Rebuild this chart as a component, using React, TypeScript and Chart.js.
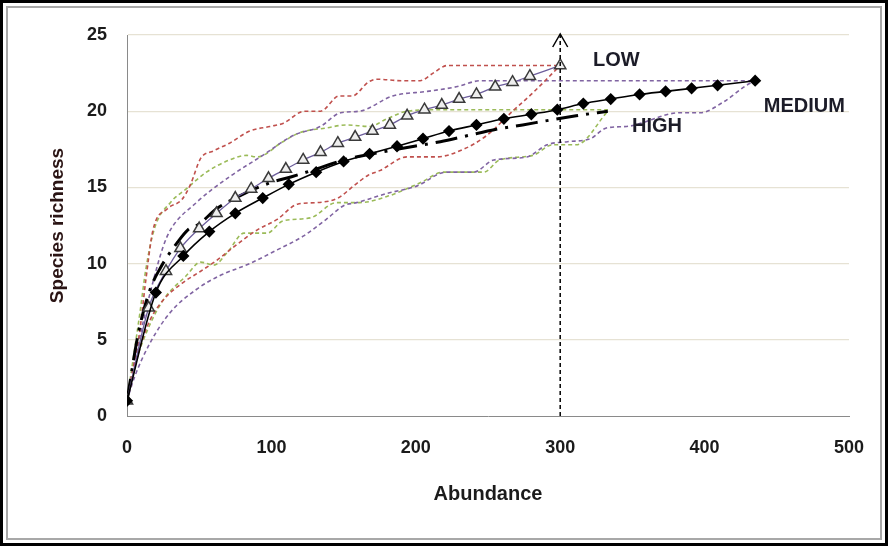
import { useEffect, useRef } from "react";
import { Chart, registerables } from "chart.js";
Chart.register(...registerables);

// ---- data ----
const LOW_X = [0, 15, 27, 37, 50, 62, 75, 86, 98, 110, 122, 134, 146, 158, 170, 182, 194, 206, 218, 230, 242, 255, 267, 279, 300];
const LOW_Y = [1, 7.1, 9.5, 11.0, 12.3, 13.3, 14.3, 14.9, 15.6, 16.2, 16.8, 17.3, 17.9, 18.3, 18.7, 19.1, 19.7, 20.1, 20.4, 20.8, 21.1, 21.6, 21.9, 22.3, 23.0];

const MED_X = [0, 20, 39, 57, 75, 94, 112, 131, 150, 168, 187, 205, 223, 242, 261, 280, 298, 316, 335, 355, 373, 391, 409, 435];
const MED_Y = [1, 8.1, 10.5, 12.1, 13.3, 14.3, 15.2, 16.0, 16.7, 17.2, 17.7, 18.2, 18.7, 19.1, 19.5, 19.8, 20.1, 20.5, 20.8, 21.1, 21.3, 21.5, 21.7, 22.0];

const HIGH_X = [0, 8, 16, 23, 35, 42, 50, 62, 75, 99, 114, 134, 150, 175, 199, 217, 236, 255, 274, 292, 311, 333];
const HIGH_Y = [1, 5.5, 8.3, 9.7, 11.4, 12.2, 12.6, 13.6, 14.3, 15.3, 15.7, 16.3, 16.8, 17.3, 17.7, 18.0, 18.4, 18.8, 19.1, 19.4, 19.7, 20.0];

const LOW_UP_X = [0, 5, 9, 13, 18, 28, 38, 44, 51, 60, 71, 85, 99, 108, 123, 134, 147, 156, 167, 173, 190, 203, 212, 222, 300];
const LOW_UP_Y = [1, 3.5, 5.7, 8.9, 12.2, 13.6, 14.2, 15.2, 16.9, 17.4, 17.9, 18.7, 19.0, 19.2, 20.0, 20.0, 21.0, 21.0, 21.9, 22.1, 22.0, 22.0, 22.5, 23.0, 23.0];

const LOW_LO_X = [0, 9, 16, 25, 38, 51, 62, 74, 90, 104, 118, 131, 146, 157, 167, 175, 194, 214, 233, 249, 267, 281, 300];
const LOW_LO_Y = [1, 4.5, 6.3, 7.6, 8.7, 9.5, 10.2, 11.1, 12.2, 12.9, 13.9, 14.0, 14.3, 15.1, 15.8, 16.1, 17.0, 17.0, 17.5, 18.4, 20.0, 21.2, 23.0];

const HIGH_UP_X = [0, 5, 9, 13, 19, 30, 41, 55, 71, 83, 90, 108, 120, 138, 152, 168, 180, 194, 217, 333];
const HIGH_UP_Y = [1, 4.2, 6.8, 9.6, 12.3, 14.0, 14.9, 16.0, 16.8, 17.1, 17.0, 18.0, 18.6, 18.9, 19.1, 19.0, 19.5, 20.0, 20.1, 20.1];

const HIGH_LO_X = [0, 6, 14, 25, 41, 51, 60, 70, 81, 97, 108, 127, 145, 161, 180, 203, 219, 247, 258, 281, 295, 311, 333];
const HIGH_LO_Y = [1, 3.5, 5.6, 7.6, 9.2, 10.1, 9.9, 10.8, 12.0, 12.0, 12.8, 13.0, 14.0, 14.0, 14.4, 15.3, 16.0, 16.0, 16.8, 17.1, 17.8, 17.8, 20.0];

const MED_UP_X = [0, 4, 12, 18, 25, 30, 48, 71, 94, 115, 134, 148, 161, 184, 208, 228, 245, 435];
const MED_UP_Y = [1, 3.0, 6.5, 8.8, 11.1, 12.2, 14.0, 15.7, 17.1, 18.4, 19.0, 19.9, 20.0, 21.0, 21.3, 21.6, 22.0, 22.0];

const MED_LO_X = [0, 5, 16, 30, 48, 64, 85, 104, 122, 138, 150, 159, 180, 201, 221, 240, 254, 277, 291, 305, 321, 332, 346, 383, 397, 413, 429, 435];
const MED_LO_Y = [1, 2.5, 4.8, 6.8, 8.3, 9.2, 10.0, 10.9, 11.8, 12.9, 13.8, 14.0, 14.6, 15.1, 16.0, 16.0, 16.8, 17.0, 17.8, 18.0, 18.2, 18.9, 19.0, 19.9, 19.9, 20.6, 21.7, 22.0];

const REF_X = [300, 300];
const REF_Y = [0, 25];

const X_TICKS = [0, 100, 200, 300, 400, 500];
const Y_TICKS = [0, 5, 10, 15, 20, 25];

const LABEL_TEXT = ["LOW", "MEDIUM", "HIGH"];
const LABEL_X = [322.7, 441, 349.7];
const LABEL_Y = [23.36, 20.3, 18.97];

const pts = (xs: number[], ys: number[]) => xs.map((x, i) => ({ x, y: ys[i] }));

const FONT = "'Liberation Sans', Arial, sans-serif";
const TEXT_COLOR = "#1b1b1b";

export default function App() {
  const ref = useRef<HTMLCanvasElement>(null);

  useEffect(() => {
    const ci = (label: string, xs: number[], ys: number[], color: string) => ({
      label,
      data: pts(xs, ys),
      borderColor: color,
      borderWidth: 1.6,
      borderDash: [4, 3],
      pointRadius: 0,
      cubicInterpolationMode: "monotone" as const,
      fill: false,
      order: 5,
    });

    const annot = {
      id: "annot",
      afterDatasetsDraw(chart: any) {
        const { ctx, scales } = chart;
        const xs = scales.x;
        const ys = scales.y;
        const ax = xs.getPixelForValue(REF_X[1]);
        const ay = ys.getPixelForValue(REF_Y[1]) - 1;
        ctx.save();
        ctx.strokeStyle = "#000";
        ctx.lineWidth = 1.5;
        ctx.setLineDash([]);
        ctx.beginPath();
        ctx.moveTo(ax - 7.5, ay + 13);
        ctx.lineTo(ax, ay);
        ctx.lineTo(ax + 7.5, ay + 13);
        ctx.stroke();
        ctx.font = `bold 20px ${FONT}`;
        ctx.fillStyle = "#1c1c28";
        ctx.textAlign = "left";
        ctx.textBaseline = "middle";
        LABEL_TEXT.forEach((t, i) => {
          ctx.fillText(t, xs.getPixelForValue(LABEL_X[i]), ys.getPixelForValue(LABEL_Y[i]));
        });
        ctx.restore();
      },
    };

    const chart = new Chart(ref.current as HTMLCanvasElement, {
      type: "line",
      data: {
        datasets: [
          {
            label: "MEDIUM",
            data: pts(MED_X, MED_Y),
            borderColor: "#000",
            borderWidth: 1.6,
            pointStyle: "rectRot",
            pointRadius: 5,
            pointBackgroundColor: "#000",
            pointBorderColor: "#000",
            cubicInterpolationMode: "monotone",
            order: 1,
          },
          {
            label: "LOW",
            data: pts(LOW_X, LOW_Y),
            borderColor: "#6d5e9c",
            borderWidth: 1.3,
            pointStyle: "triangle",
            pointRadius: 6.5,
            pointBackgroundColor: "#eeeeee",
            pointBorderColor: "#3a3a3a",
            pointBorderWidth: 1.5,
            cubicInterpolationMode: "monotone",
            order: 1,
          },
          {
            label: "HIGH",
            data: pts(HIGH_X, HIGH_Y),
            borderColor: "#000",
            borderWidth: 3,
            borderDash: [22, 8, 3, 8],
            pointRadius: 0,
            cubicInterpolationMode: "monotone",
            order: 2,
          },
          {
            label: "ref",
            data: pts(REF_X, REF_Y),
            borderColor: "#000",
            borderWidth: 1.5,
            borderDash: [4, 3],
            pointRadius: 0,
            order: 0,
          },
          ci("LOW upper", LOW_UP_X, LOW_UP_Y, "#c0504d"),
          ci("LOW lower", LOW_LO_X, LOW_LO_Y, "#c0504d"),
          ci("MEDIUM upper", MED_UP_X, MED_UP_Y, "#8064a2"),
          ci("MEDIUM lower", MED_LO_X, MED_LO_Y, "#8064a2"),
          ci("HIGH upper", HIGH_UP_X, HIGH_UP_Y, "#9bbb59"),
          ci("HIGH lower", HIGH_LO_X, HIGH_LO_Y, "#9bbb59"),
        ] as any,
      },
      options: {
        animation: false,
        responsive: false,
        layout: { padding: { top: 35, right: 39, left: 0, bottom: 0 } },
        plugins: { legend: { display: false }, tooltip: { enabled: false } },
        scales: {
          x: {
            type: "linear",
            min: 0,
            max: 500,
            afterBuildTicks: (s: any) => {
              s.ticks = X_TICKS.map((v) => ({ value: v }));
            },
            afterFit: (s: any) => {
              s.height = 130;
            },
            grid: { display: false, drawTicks: false },
            border: { color: "#8a8a8a", width: 1 },
            ticks: {
              padding: 21,
              maxRotation: 0,
              color: TEXT_COLOR,
              font: { family: FONT, size: 18, weight: "bold" },
            },
            title: {
              display: true,
              text: "Abundance",
              color: TEXT_COLOR,
              font: { family: FONT, size: 20, weight: "bold" },
              padding: { top: 0, bottom: 40 },
            },
          },
          y: {
            min: 0,
            max: 25,
            afterBuildTicks: (s: any) => {
              s.ticks = Y_TICKS.map((v) => ({ value: v }));
            },
            afterFit: (s: any) => {
              s.width = 127;
            },
            grid: {
              drawTicks: false,
              color: (c: any) => (c.tick && c.tick.value === 0 ? "rgba(0,0,0,0)" : "#e6e2d4"),
              lineWidth: 1.2,
            },
            border: { color: "#8a8a8a", width: 1 },
            ticks: {
              padding: 20,
              color: TEXT_COLOR,
              font: { family: FONT, size: 18, weight: "bold" },
            },
            title: {
              display: true,
              text: "Species richness",
              color: "#2a1414",
              font: { family: FONT, size: 19, weight: "bold" },
              padding: { top: 46, bottom: 0 },
            },
          },
        },
      } as any,
      plugins: [annot],
    });
    return () => chart.destroy();
  }, []);

  return (
    <div style={{ position: "absolute", left: 0, top: 0, width: 888, height: 546, background: "#fff" }}>
      <canvas ref={ref} width={888} height={546} style={{ display: "block", position: "absolute", left: 0, top: 0 }} />
      <div
        style={{
          position: "absolute",
          left: 0,
          top: 0,
          width: 888,
          height: 546,
          boxSizing: "border-box",
          border: "3px solid #000",
          pointerEvents: "none",
        }}
      />
      <div
        style={{
          position: "absolute",
          left: 6,
          top: 6,
          width: 876,
          height: 534,
          boxSizing: "border-box",
          border: "2px solid #a8a8a8",
          pointerEvents: "none",
        }}
      />
    </div>
  );
}
